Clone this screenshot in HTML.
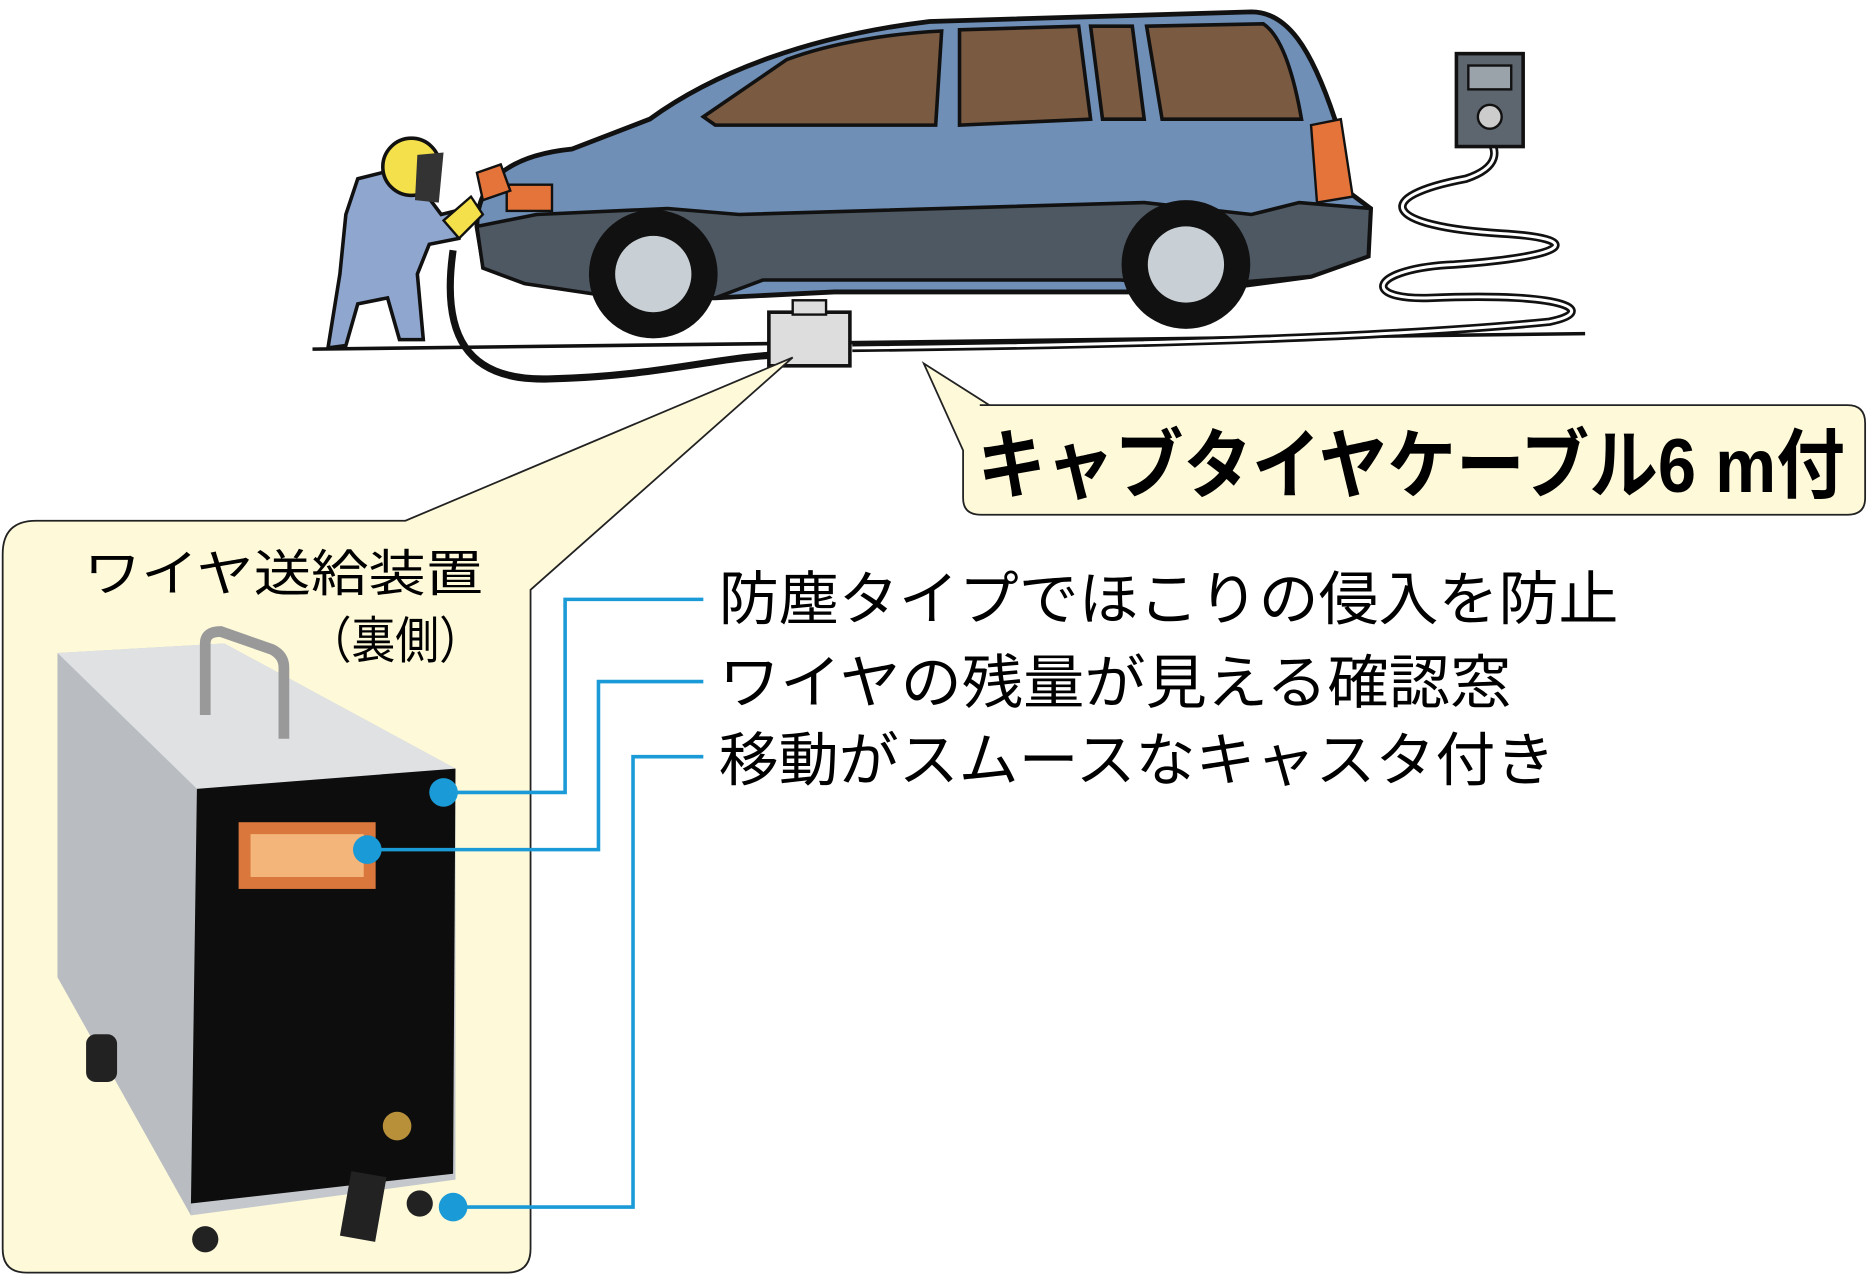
<!DOCTYPE html>
<html><head><meta charset="utf-8"><style>
html,body{margin:0;padding:0;background:#fff;}
svg{display:block;}
text{font-family:"Liberation Sans","Noto Sans CJK JP",sans-serif;}
</style></head><body>
<svg width="1869" height="1275" viewBox="0 0 1568 1070" xmlns="http://www.w3.org/2000/svg">
<path d="M262 293 L1330 280" stroke="#111" stroke-width="3" fill="none"/>
<path d="M380 210 C370 280 390 320 460 318 C550 316 600 300 650 298" stroke="#111" stroke-width="6" fill="none"/>
<path d="M715 292 C900 290 1150 285 1300 270 C1340 262 1320 245 1200 250 C1140 252 1150 225 1220 222 C1320 215 1330 200 1260 196 C1160 190 1150 165 1230 150 C1260 140 1255 125 1250 118" stroke="#111" stroke-width="7" fill="none"/>
<path d="M715 292 C900 290 1150 285 1300 270 C1340 262 1320 245 1200 250 C1140 252 1150 225 1220 222 C1320 215 1330 200 1260 196 C1160 190 1150 165 1230 150 C1260 140 1255 125 1250 118" stroke="#fff" stroke-width="2.5" fill="none"/>
<rect x="1222" y="45" width="56" height="78" fill="#5d666e" stroke="#111" stroke-width="3"/>
<rect x="1232" y="55" width="36" height="20" fill="#9aa3aa" stroke="#111" stroke-width="2"/>
<circle cx="1250" cy="98" r="10" fill="#ccc" stroke="#111" stroke-width="2"/>
<path d="M400 190 C400 150 430 130 480 125 L545 100 C600 60 680 30 780 18 L1050 10 C1080 10 1100 40 1120 100 L1130 160 L1150 175 L1148 215 L1100 232 L1040 240 L990 245 L700 245 L600 250 L520 250 L440 235 L405 220 Z" fill="#6f8fb6" stroke="#111" stroke-width="4"/>
<path d="M400 190 L405 225 L440 238 L520 250 L600 250 L640 235 L940 235 L1000 240 L1100 232 L1148 215 L1150 175 L1090 170 L1050 180 L960 170 L620 180 L560 175 L450 180 Z" fill="#4e5862" stroke="#111" stroke-width="3"/>
<path d="M590 98 L660 50 C700 35 750 28 790 26 L785 105 L600 105 Z" fill="#7a5a40" stroke="#111" stroke-width="3"/>
<path d="M805 25 L905 22 L915 100 L805 105 Z" fill="#7a5a40" stroke="#111" stroke-width="3"/>
<path d="M915 22 L950 22 L960 100 L925 100 Z" fill="#7a5a40" stroke="#111" stroke-width="3"/>
<path d="M962 22 L1060 20 C1075 30 1085 60 1092 100 L975 100 Z" fill="#7a5a40" stroke="#111" stroke-width="3"/>
<path d="M1100 105 L1125 100 L1135 165 L1105 170 Z" fill="#e5743a" stroke="#111" stroke-width="2"/>
<rect x="425" y="155" width="38" height="22" fill="#e5743a" stroke="#111" stroke-width="2"/>
<circle cx="548" cy="230" r="54" fill="#111"/><circle cx="548" cy="230" r="32" fill="#c8d0d6"/>
<circle cx="995" cy="222" r="54" fill="#111"/><circle cx="995" cy="222" r="32" fill="#c8d0d6"/>
<path d="M300 150 L340 140 L370 180 L390 175 L385 200 L360 205 L350 230 L355 285 L335 285 L325 250 L300 255 L290 290 L275 292 L285 230 L290 180 Z" fill="#8fa6cf" stroke="#111" stroke-width="3"/>
<circle cx="345" cy="140" r="24" fill="#f4e04a" stroke="#111" stroke-width="3"/>
<path d="M350 130 L372 128 L368 170 L348 168 Z" fill="#333"/>
<path d="M372 185 L395 165 L405 180 L385 200 Z" fill="#f4e04a" stroke="#111" stroke-width="2"/>
<path d="M400 145 L420 138 L428 160 L405 168 Z" fill="#e5743a" stroke="#111" stroke-width="2"/>
<rect x="645" y="262" width="68" height="45" fill="#ddd" stroke="#111" stroke-width="3"/>
<rect x="665" y="252" width="28" height="12" fill="#ddd" stroke="#111" stroke-width="2"/>
<path d="M30 437 L340 437 L665 300 L445 495 L445 1048 Q445 1068 425 1068 L22 1068 Q2 1068 2 1048 L2 465 Q2 437 30 437 Z" fill="#fdf9d9" stroke="#222" stroke-width="1.5"/>
<text x="70" y="496" font-size="42" textLength="335" lengthAdjust="spacingAndGlyphs">ワイヤ送給装置</text>
<text x="258" y="552" font-size="42" textLength="147" lengthAdjust="spacingAndGlyphs">（裏側）</text>
<path d="M48 548 L188 540 L382 645 L382 990 L160 1020 L48 820 Z" fill="#c4c8cc"/>
<path d="M48 548 L188 540 L382 645 L165 662 Z" fill="#dfe1e3"/>
<path d="M48 548 L165 662 L160 1020 L48 820 Z" fill="#b9bdc1"/>
<path d="M165 662 L382 645 L380 985 L160 1010 Z" fill="#0d0d0d"/>
<rect x="200" y="690" width="115" height="56" fill="#d9773c"/>
<rect x="210" y="700" width="95" height="36" fill="#f3b57a"/>
<path d="M172 600 L172 540 Q172 530 185 530 L228 545 Q238 550 238 560 L238 620" stroke="#999" stroke-width="9" fill="none"/>
<rect x="290" y="985" width="30" height="55" fill="#222" transform="rotate(10 305 1010)"/>
<circle cx="333" cy="945" r="12" fill="#b8903a"/>
<rect x="72" y="868" width="26" height="40" rx="8" fill="#222"/>
<circle cx="172" cy="1040" r="11" fill="#222"/><circle cx="352" cy="1010" r="11" fill="#222"/>
<g stroke="#1a9ad6" stroke-width="3" fill="none">
<path d="M372 665 L474 665 L474 503 L590 503"/>
<path d="M308 713 L502 713 L502 572 L590 572"/>
<path d="M380 1013 L531 1013 L531 635 L590 635"/>
</g>
<g fill="#1a9ad6"><circle cx="372" cy="665" r="12"/><circle cx="308" cy="713" r="12"/><circle cx="380" cy="1013" r="12"/></g>
<text x="603" y="520" font-size="49" textLength="755" lengthAdjust="spacingAndGlyphs">防塵タイプでほこりの侵入を防止</text>
<text x="603" y="590" font-size="49" textLength="665" lengthAdjust="spacingAndGlyphs">ワイヤの残量が見える確認窓</text>
<text x="603" y="655" font-size="49" textLength="702" lengthAdjust="spacingAndGlyphs">移動がスムースなキャスタ付き</text>
<path d="M822 340 L1550 340 Q1565 340 1565 355 L1565 418 Q1565 432 1550 432 L823 432 Q808 432 808 418 L808 378 L775 305 L830 340 Z" fill="#fdf9d9" stroke="#222" stroke-width="1.5"/>
<text x="820" y="413" font-size="64" font-weight="bold" textLength="728" lengthAdjust="spacingAndGlyphs">キャブタイヤケーブル6 m付</text>
</svg>
</body></html>
